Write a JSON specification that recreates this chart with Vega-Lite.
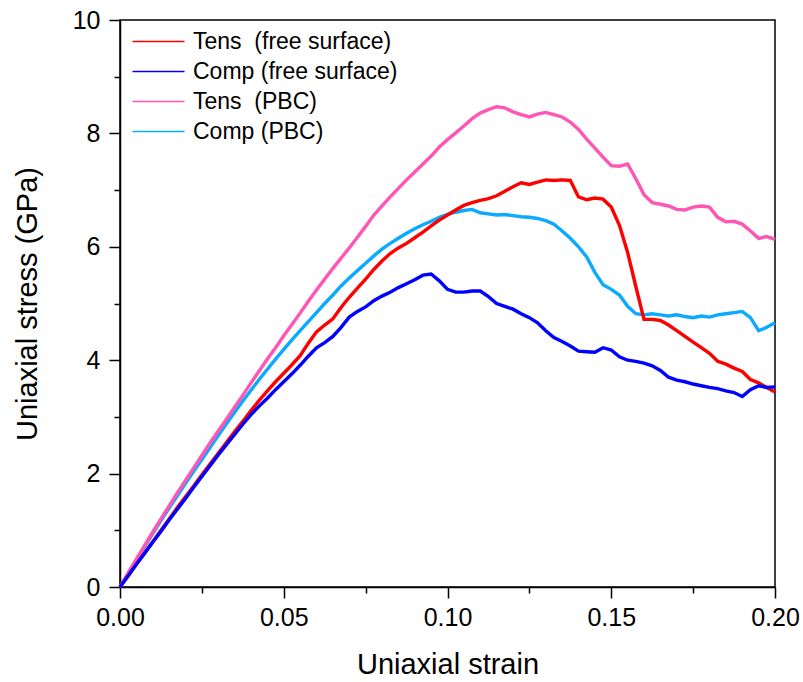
{
"$schema":"https://vega.github.io/schema/vega-lite/v6.json",
"width":655,"height":567,"autosize":"none",
"padding":{"left":120,"top":20,"right":28,"bottom":95},
"background":"white",
"config":{"view":{"stroke":"black","strokeWidth":1.5},"font":"Liberation Sans"},
"datasets":{
"tf":[{"x":0,"y":0},{"x":0.0025,"y":0.2},{"x":0.005,"y":0.4},{"x":0.0075,"y":0.6},{"x":0.01,"y":0.8},{"x":0.0125,"y":1.0},{"x":0.015,"y":1.2},{"x":0.0175,"y":1.4},{"x":0.02,"y":1.59},{"x":0.0225,"y":1.78},{"x":0.025,"y":1.98},{"x":0.0275,"y":2.17},{"x":0.03,"y":2.36},{"x":0.0325,"y":2.55},{"x":0.035,"y":2.74},{"x":0.0375,"y":2.92},{"x":0.04,"y":3.11},{"x":0.0425,"y":3.29},{"x":0.045,"y":3.46},{"x":0.0475,"y":3.62},{"x":0.05,"y":3.77},{"x":0.0525,"y":3.92},{"x":0.055,"y":4.08},{"x":0.0575,"y":4.3},{"x":0.06,"y":4.5},{"x":0.0625,"y":4.62},{"x":0.065,"y":4.73},{"x":0.0675,"y":4.93},{"x":0.07,"y":5.11},{"x":0.0725,"y":5.27},{"x":0.075,"y":5.43},{"x":0.0775,"y":5.6},{"x":0.08,"y":5.75},{"x":0.0825,"y":5.88},{"x":0.085,"y":5.98},{"x":0.0875,"y":6.06},{"x":0.09,"y":6.16},{"x":0.0925,"y":6.26},{"x":0.095,"y":6.37},{"x":0.0975,"y":6.47},{"x":0.1,"y":6.56},{"x":0.1025,"y":6.65},{"x":0.105,"y":6.73},{"x":0.1075,"y":6.78},{"x":0.11,"y":6.82},{"x":0.1125,"y":6.85},{"x":0.115,"y":6.9},{"x":0.1175,"y":6.98},{"x":0.12,"y":7.06},{"x":0.1225,"y":7.13},{"x":0.125,"y":7.1},{"x":0.1275,"y":7.14},{"x":0.13,"y":7.18},{"x":0.1325,"y":7.17},{"x":0.135,"y":7.18},{"x":0.1375,"y":7.17},{"x":0.14,"y":6.88},{"x":0.1425,"y":6.83},{"x":0.145,"y":6.86},{"x":0.1475,"y":6.84},{"x":0.15,"y":6.7},{"x":0.1525,"y":6.38},{"x":0.155,"y":5.9},{"x":0.1575,"y":5.3},{"x":0.16,"y":4.72},{"x":0.1625,"y":4.72},{"x":0.165,"y":4.7},{"x":0.1675,"y":4.62},{"x":0.17,"y":4.52},{"x":0.1725,"y":4.42},{"x":0.175,"y":4.32},{"x":0.1775,"y":4.22},{"x":0.18,"y":4.12},{"x":0.1825,"y":3.98},{"x":0.185,"y":3.93},{"x":0.1875,"y":3.86},{"x":0.19,"y":3.8},{"x":0.1925,"y":3.66},{"x":0.195,"y":3.6},{"x":0.1975,"y":3.52},{"x":0.2,"y":3.44}],
"cf":[{"x":0,"y":0},{"x":0.0025,"y":0.2},{"x":0.005,"y":0.4},{"x":0.0075,"y":0.59},{"x":0.01,"y":0.79},{"x":0.0125,"y":0.98},{"x":0.015,"y":1.18},{"x":0.0175,"y":1.37},{"x":0.02,"y":1.56},{"x":0.0225,"y":1.76},{"x":0.025,"y":1.95},{"x":0.0275,"y":2.14},{"x":0.03,"y":2.33},{"x":0.0325,"y":2.51},{"x":0.035,"y":2.69},{"x":0.0375,"y":2.87},{"x":0.04,"y":3.04},{"x":0.0425,"y":3.19},{"x":0.045,"y":3.33},{"x":0.0475,"y":3.48},{"x":0.05,"y":3.62},{"x":0.0525,"y":3.76},{"x":0.055,"y":3.91},{"x":0.0575,"y":4.07},{"x":0.06,"y":4.22},{"x":0.0625,"y":4.31},{"x":0.065,"y":4.42},{"x":0.0675,"y":4.58},{"x":0.07,"y":4.76},{"x":0.0725,"y":4.86},{"x":0.075,"y":4.94},{"x":0.0775,"y":5.05},{"x":0.08,"y":5.13},{"x":0.0825,"y":5.2},{"x":0.085,"y":5.28},{"x":0.0875,"y":5.35},{"x":0.09,"y":5.42},{"x":0.0925,"y":5.5},{"x":0.095,"y":5.52},{"x":0.0975,"y":5.4},{"x":0.1,"y":5.25},{"x":0.1025,"y":5.2},{"x":0.105,"y":5.2},{"x":0.1075,"y":5.22},{"x":0.11,"y":5.22},{"x":0.1125,"y":5.12},{"x":0.115,"y":5.0},{"x":0.1175,"y":4.95},{"x":0.12,"y":4.9},{"x":0.1225,"y":4.82},{"x":0.125,"y":4.75},{"x":0.1275,"y":4.66},{"x":0.13,"y":4.52},{"x":0.1325,"y":4.4},{"x":0.135,"y":4.33},{"x":0.1375,"y":4.25},{"x":0.14,"y":4.16},{"x":0.1425,"y":4.15},{"x":0.145,"y":4.14},{"x":0.1475,"y":4.22},{"x":0.15,"y":4.18},{"x":0.1525,"y":4.06},{"x":0.155,"y":4.0},{"x":0.1575,"y":3.98},{"x":0.16,"y":3.95},{"x":0.1625,"y":3.9},{"x":0.165,"y":3.82},{"x":0.1675,"y":3.7},{"x":0.17,"y":3.65},{"x":0.1725,"y":3.62},{"x":0.175,"y":3.58},{"x":0.1775,"y":3.55},{"x":0.18,"y":3.52},{"x":0.1825,"y":3.5},{"x":0.185,"y":3.46},{"x":0.1875,"y":3.43},{"x":0.19,"y":3.36},{"x":0.1925,"y":3.48},{"x":0.195,"y":3.55},{"x":0.1975,"y":3.52},{"x":0.2,"y":3.53}],
"tp":[{"x":0,"y":0},{"x":0.0025,"y":0.25},{"x":0.005,"y":0.49},{"x":0.0075,"y":0.73},{"x":0.01,"y":0.97},{"x":0.0125,"y":1.2},{"x":0.015,"y":1.43},{"x":0.0175,"y":1.66},{"x":0.02,"y":1.88},{"x":0.0225,"y":2.1},{"x":0.025,"y":2.32},{"x":0.0275,"y":2.54},{"x":0.03,"y":2.75},{"x":0.0325,"y":2.96},{"x":0.035,"y":3.17},{"x":0.0375,"y":3.38},{"x":0.04,"y":3.6},{"x":0.0425,"y":3.81},{"x":0.045,"y":4.02},{"x":0.0475,"y":4.22},{"x":0.05,"y":4.43},{"x":0.0525,"y":4.63},{"x":0.055,"y":4.83},{"x":0.0575,"y":5.04},{"x":0.06,"y":5.24},{"x":0.0625,"y":5.43},{"x":0.065,"y":5.62},{"x":0.0675,"y":5.8},{"x":0.07,"y":5.98},{"x":0.0725,"y":6.17},{"x":0.075,"y":6.36},{"x":0.0775,"y":6.56},{"x":0.08,"y":6.72},{"x":0.0825,"y":6.88},{"x":0.085,"y":7.03},{"x":0.0875,"y":7.18},{"x":0.09,"y":7.32},{"x":0.0925,"y":7.46},{"x":0.095,"y":7.6},{"x":0.0975,"y":7.76},{"x":0.1,"y":7.89},{"x":0.1025,"y":8.01},{"x":0.105,"y":8.13},{"x":0.1075,"y":8.26},{"x":0.11,"y":8.36},{"x":0.1125,"y":8.42},{"x":0.115,"y":8.47},{"x":0.1175,"y":8.45},{"x":0.12,"y":8.38},{"x":0.1225,"y":8.33},{"x":0.125,"y":8.29},{"x":0.1275,"y":8.34},{"x":0.13,"y":8.37},{"x":0.1325,"y":8.33},{"x":0.135,"y":8.29},{"x":0.1375,"y":8.2},{"x":0.14,"y":8.07},{"x":0.1425,"y":7.9},{"x":0.145,"y":7.74},{"x":0.1475,"y":7.58},{"x":0.15,"y":7.43},{"x":0.1525,"y":7.42},{"x":0.155,"y":7.46},{"x":0.1575,"y":7.2},{"x":0.16,"y":6.92},{"x":0.1625,"y":6.78},{"x":0.165,"y":6.75},{"x":0.1675,"y":6.72},{"x":0.17,"y":6.66},{"x":0.1725,"y":6.65},{"x":0.175,"y":6.7},{"x":0.1775,"y":6.72},{"x":0.18,"y":6.7},{"x":0.1825,"y":6.52},{"x":0.185,"y":6.44},{"x":0.1875,"y":6.45},{"x":0.19,"y":6.4},{"x":0.1925,"y":6.28},{"x":0.195,"y":6.15},{"x":0.1975,"y":6.18},{"x":0.2,"y":6.13}],
"cp":[{"x":0,"y":0},{"x":0.0025,"y":0.24},{"x":0.005,"y":0.48},{"x":0.0075,"y":0.71},{"x":0.01,"y":0.94},{"x":0.0125,"y":1.17},{"x":0.015,"y":1.39},{"x":0.0175,"y":1.61},{"x":0.02,"y":1.83},{"x":0.0225,"y":2.04},{"x":0.025,"y":2.25},{"x":0.0275,"y":2.46},{"x":0.03,"y":2.67},{"x":0.0325,"y":2.88},{"x":0.035,"y":3.08},{"x":0.0375,"y":3.28},{"x":0.04,"y":3.47},{"x":0.0425,"y":3.66},{"x":0.045,"y":3.84},{"x":0.0475,"y":4.02},{"x":0.05,"y":4.19},{"x":0.0525,"y":4.36},{"x":0.055,"y":4.52},{"x":0.0575,"y":4.68},{"x":0.06,"y":4.84},{"x":0.0625,"y":5.0},{"x":0.065,"y":5.15},{"x":0.0675,"y":5.31},{"x":0.07,"y":5.45},{"x":0.0725,"y":5.58},{"x":0.075,"y":5.71},{"x":0.0775,"y":5.84},{"x":0.08,"y":5.96},{"x":0.0825,"y":6.06},{"x":0.085,"y":6.15},{"x":0.0875,"y":6.24},{"x":0.09,"y":6.32},{"x":0.0925,"y":6.39},{"x":0.095,"y":6.45},{"x":0.0975,"y":6.52},{"x":0.1,"y":6.57},{"x":0.1025,"y":6.61},{"x":0.105,"y":6.64},{"x":0.1075,"y":6.66},{"x":0.11,"y":6.6},{"x":0.1125,"y":6.58},{"x":0.115,"y":6.56},{"x":0.1175,"y":6.57},{"x":0.12,"y":6.55},{"x":0.1225,"y":6.53},{"x":0.125,"y":6.52},{"x":0.1275,"y":6.5},{"x":0.13,"y":6.46},{"x":0.1325,"y":6.4},{"x":0.135,"y":6.28},{"x":0.1375,"y":6.15},{"x":0.14,"y":6.0},{"x":0.1425,"y":5.82},{"x":0.145,"y":5.55},{"x":0.1475,"y":5.33},{"x":0.15,"y":5.25},{"x":0.1525,"y":5.15},{"x":0.155,"y":4.95},{"x":0.1575,"y":4.82},{"x":0.16,"y":4.8},{"x":0.1625,"y":4.82},{"x":0.165,"y":4.8},{"x":0.1675,"y":4.78},{"x":0.17,"y":4.8},{"x":0.1725,"y":4.77},{"x":0.175,"y":4.75},{"x":0.1775,"y":4.78},{"x":0.18,"y":4.76},{"x":0.1825,"y":4.8},{"x":0.185,"y":4.82},{"x":0.1875,"y":4.84},{"x":0.19,"y":4.86},{"x":0.1925,"y":4.75},{"x":0.195,"y":4.52},{"x":0.1975,"y":4.58},{"x":0.2,"y":4.66}]
},
"encoding":{
"x":{"field":"x","type":"quantitative","scale":{"domain":[0,0.2],"nice":false},
 "axis":{"title":"Uniaxial strain","values":[0,0.025,0.05,0.075,0.1,0.125,0.15,0.175,0.2],
 "labelExpr":"round(datum.value*40) % 2 == 1 ? '' : format(datum.value, '.2f')",
 "tickSize":{"condition":{"test":"round(datum.value*40) % 2 == 1","value":6},"value":11},
 "grid":false,"domainColor":"black","domainWidth":1.5,"tickColor":"black","tickWidth":1.5,
 "labelFontSize":25,"labelColor":"black","labelPadding":7,"labelFont":"Liberation Sans","labelFlush":false,"labelOverlap":false,
 "titleFontSize":29,"titleFontWeight":"normal","titleColor":"black","titlePadding":20,"titleFont":"Liberation Sans"}},
"y":{"field":"y","type":"quantitative","scale":{"domain":[0,10],"nice":false},
 "axis":{"title":"Uniaxial stress (GPa)","values":[0,1,2,3,4,5,6,7,8,9,10],
 "labelExpr":"datum.value % 2 == 1 ? '' : format(datum.value, 'd')",
 "tickSize":{"condition":{"test":"datum.value % 2 == 1","value":6},"value":11},
 "grid":false,"domainColor":"black","domainWidth":1.5,"tickColor":"black","tickWidth":1.5,
 "labelFontSize":25,"labelColor":"black","labelPadding":9,"labelFont":"Liberation Sans","labelFlush":false,"labelOverlap":false,
 "titleFontSize":29,"titleFontWeight":"normal","titleColor":"black","titlePadding":30,"titleFont":"Liberation Sans"}},
"color":{"field":"series","type":"nominal",
 "scale":{"domain":["Tens\u00a0 (free surface)","Comp (free surface)","Tens\u00a0 (PBC)","Comp (PBC)"],"range":["#FF0000","#0000FF","#FF55B4","#0AAAFF"]},
 "legend":{"orient":"none","legendX":27,"legendY":10,"title":null,"symbolType":"M-2.6,0L2.6,0","symbolSize":400,"symbolStrokeWidth":1.5,"symbolFillColor":"transparent",
 "labelFontSize":23,"labelFont":"Liberation Sans","labelColor":"black","labelOffset":23,"labelLimit":0,"rowPadding":6,"padding":0,"fillColor":null,"strokeColor":null}}
},
"layer":[
{"data":{"name":"cp"},"transform":[{"calculate":"'Comp (PBC)'","as":"series"}],"mark":{"type":"line","strokeWidth":3.4}},
{"data":{"name":"tp"},"transform":[{"calculate":"'Tens\u00a0 (PBC)'","as":"series"}],"mark":{"type":"line","strokeWidth":3.4}},
{"data":{"name":"tf"},"transform":[{"calculate":"'Tens\u00a0 (free surface)'","as":"series"}],"mark":{"type":"line","strokeWidth":3.4}},
{"data":{"name":"cf"},"transform":[{"calculate":"'Comp (free surface)'","as":"series"}],"mark":{"type":"line","strokeWidth":3.4}}
]
}
